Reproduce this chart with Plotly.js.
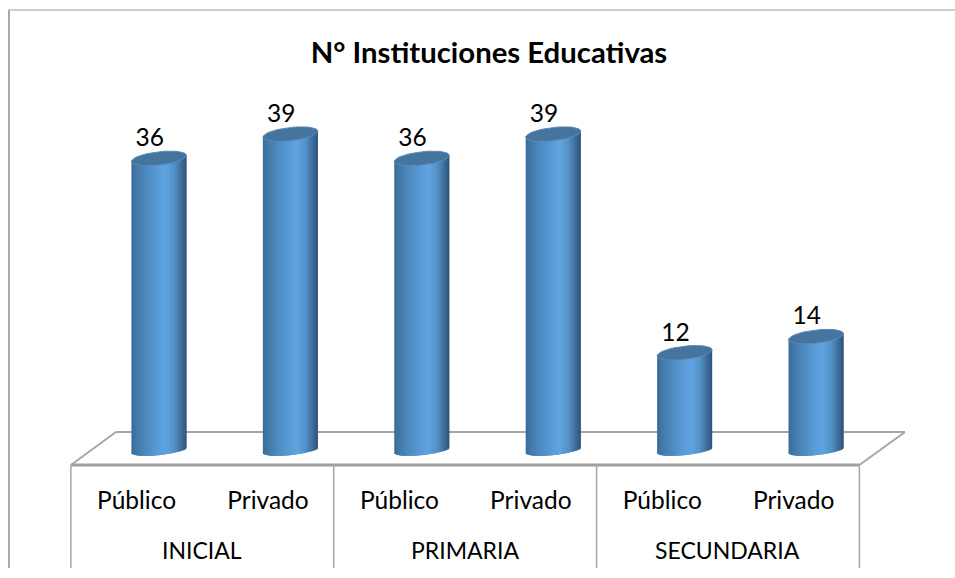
<!DOCTYPE html>
<html>
<head>
<meta charset="utf-8">
<script src="https://cdn.plot.ly/plotly-3.0.1.min.js"></script>
<style>html,body{margin:0;padding:0;background:#fff}</style>
</head>
<body>
<div id="chart" style="width:955px;height:578px"></div>
<script>
// Data
const groups = ["INICIAL", "PRIMARIA", "SECUNDARIA"];
const types = ["Público", "Privado", "Público", "Privado", "Público", "Privado"];
const values = [36, 39, 36, 39, 12, 14];

// Cylinder appearance
const FONT = "Lato, Carlito, Calibri, sans-serif";
const depthShift = 0.17;      // bars sit on the floor, behind the front edge of the axis
const halfWidth = 0.2093;     // half a cylinder, in category units
const tilt = 0.37;            // slope of the ellipses, in value units
const capH = 0.82;            // half height of the top ellipses, in value units
const baseH = 0.62;           // depth of the bottom arc, in value units
const floorFront = -1.85, floorBack = 2.22, tableBottom = -14.57, yTop = 48.15;
const xMin = -0.669, xMax = 5.677;
const strips = 55;
const stops = [[0, [58,107,152]], [0.1, [68,122,170]], [0.4, [86,150,208]], [0.62, [96,164,226]],
               [0.78, [84,145,198]], [0.92, [60,106,150]], [1, [47,86,124]]];

function shade(t) {
  for (let i = 1; i < stops.length; i++) {
    if (t <= stops[i][0]) {
      const a = stops[i-1], b = stops[i], f = (t - a[0]) / (b[0] - a[0]);
      return "rgb(" + a[1].map((c, k) => Math.round(c + (b[1][k] - c) * f)).join(",") + ")";
    }
  }
  return "rgb(47,86,124)";
}

const traces = [];
const xs = values.map((_, i) => i);
for (let s = 0; s < strips; s++) {
  const t = (s + 0.5) / strips, u = 2 * t - 1;
  const lift = tilt * u;
  const bottom = lift - baseH * Math.sqrt(1 - u * u);
  const left = -halfWidth + 2 * halfWidth * s / strips;
  const w = Math.min(2 * halfWidth / strips * 2.5, halfWidth - left);
  traces.push({
    type: "bar", x: xs,
    y: values.map(v => v + lift - bottom),
    base: values.map(() => bottom),
    width: values.map(() => w),
    offset: values.map(() => left),
    marker: {color: shade(t), line: {width: 0}},
    hoverinfo: "skip", showlegend: false
  });
}

// Elliptical tops
const capX = [], capY = [];
values.forEach((v, i) => {
  for (let a = 0; a <= 48; a++) {
    const th = a / 48 * 2 * Math.PI, u = Math.cos(th);
    capX.push(i + halfWidth * u);
    capY.push(v + tilt * u + capH * Math.sin(th));
  }
  capX.push(null); capY.push(null);
});
traces.push({
  type: "scatter", mode: "lines", x: capX, y: capY, fill: "toself",
  fillcolor: "#45759f", line: {color: "#5a8ab4", width: 1},
  hoverinfo: "skip", showlegend: false
});

// Value labels
traces.push({
  type: "scatter", mode: "text", x: xs.map(i => i - 0.07), y: values.map(v => v + 0.75),
  text: values.map(String), textposition: "top center",
  textfont: {family: FONT, size: 24.5, color: "#000"},
  hoverinfo: "skip", showlegend: false
});

const xp = x => (x - xMin) / (xMax - xMin);
const yp = y => (y - floorFront) / (yTop - floorFront);
const frame = "#a9a9a9", axisCol = "#a6a6a6";
const shapes = [];
function seg(x0, y0, x1, y1, w, c) {
  shapes.push({type: "line", xref: "paper", yref: "paper", x0: xp(x0), y0: yp(y0), x1: xp(x1), y1: yp(y1),
    line: {color: c || axisCol, width: w}, layer: "below"});
}
const fl = xMin, fr = groups.length * 2 - 0.5 - depthShift;
const bl = -0.5 - depthShift + 0.3425, br = xMax;
seg(bl, floorBack, br, floorBack, 2);
seg(fl, floorFront, bl, floorBack, 2);
seg(br, floorBack, fr, floorFront, 2);
seg(fl, floorFront, fr, floorFront, 3, "#a0a0a0");
for (let g = 0; g <= groups.length; g++) {
  const gx = g * 2 - 0.5 - depthShift;
  seg(gx, floorFront, gx, tableBottom, 1.5);
}
// Outer frame of the chart area
shapes.push({type: "line", xref: "paper", yref: "paper", x0: (9 - 71) / 834, x1: (9 - 71) / 834,
  y0: 1 + 50 / 405, y1: -103 / 405, line: {color: frame, width: 2}});
shapes.push({type: "line", xref: "paper", yref: "paper", x0: (8 - 71) / 834, x1: (955 - 71) / 834,
  y0: 1 + 50 / 405, y1: 1 + 50 / 405, line: {color: "#bcbcbc", width: 1.5}});

const annotations = groups.map((g, i) => ({
  text: g, xref: "paper", yref: "paper", x: xp(i * 2 + 0.5 - depthShift), y: (465 - 550) / 405,
  xanchor: "center", yanchor: "middle", showarrow: false,
  font: {family: FONT, size: 23, color: "#000"}
}));

const layout = {
  width: 955, height: 578,
  margin: {l: 71, r: 50, t: 60, b: 113, pad: 0},
  paper_bgcolor: "#fff", plot_bgcolor: "rgba(0,0,0,0)",
  barmode: "overlay", showlegend: false,
  title: {text: "<b>N° Instituciones Educativas</b>", x: 489 / 955, xanchor: "center",
    y: 1 - 53 / 578, yanchor: "middle", font: {family: FONT, size: 29.3, color: "#000"}},
  xaxis: {type: "linear", range: [xMin, xMax], tickmode: "array",
    tickvals: types.map((_, i) => i - depthShift), ticktext: types,
    tickfont: {family: FONT, size: 24.5, color: "#000"},
    ticks: "outside", ticklen: 14, tickcolor: "rgba(0,0,0,0)",
    showgrid: false, zeroline: false, showline: false, fixedrange: true},
  yaxis: {range: [floorFront, yTop], visible: false, showgrid: false, zeroline: false, fixedrange: true},
  shapes, annotations
};

Plotly.newPlot("chart", traces, layout, {displayModeBar: false, staticPlot: true});
</script>
</body>
</html>
